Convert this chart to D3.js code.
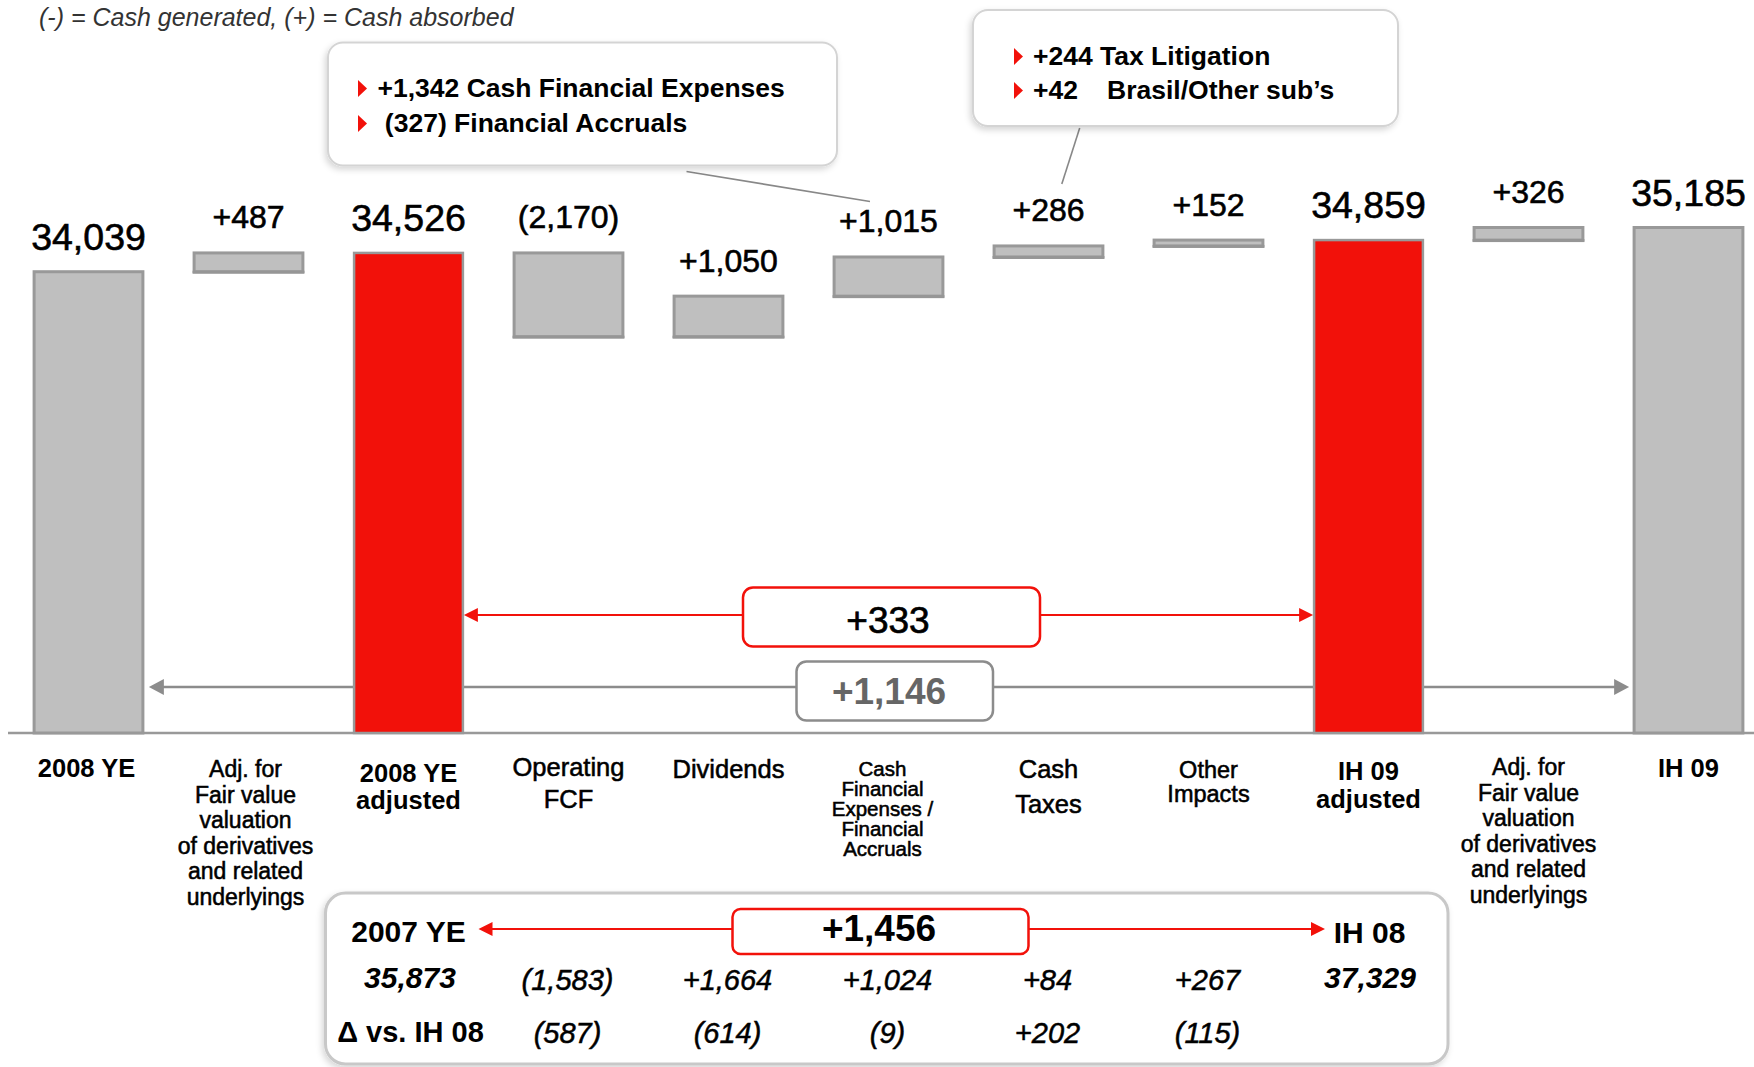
<!DOCTYPE html>
<html><head><meta charset="utf-8">
<script src="https://cdn.jsdelivr.net/npm/d3@7/dist/d3.min.js"></script>
<style>
body{margin:0;background:#fff;}
svg{display:block;font-family:"Liberation Sans",Arial,sans-serif;}
</style>
</head><body>
<svg id="chart" width="1754" height="1067"></svg>
<script>
// ---------------- DATA ----------------
const categories = ["2008 YE","Adj. FV (2008)","2008 YE adjusted","Operating FCF","Dividends","Cash Financial Expenses / Financial Accruals","Cash Taxes","Other Impacts","IH 09 adjusted","Adj. FV (IH 09)","IH 09"];
const barTypes = ["total","delta","total","delta","delta","delta","delta","delta","total","delta","total"];
const barValues = [34039, 487, 34526, -2170, 1050, 1015, 286, 152, 34859, 326, 35185];
const valueLabels = ["34,039","+487","34,526","(2,170)","+1,050","+1,015","+286","+152","34,859","+326","35,185"];
const highlighted = [false,false,true,false,false,false,false,false,true,false,false];
const categoryLines = [
  ["2008 YE"],
  ["Adj. for","Fair value","valuation","of derivatives","and related","underlyings"],
  ["2008 YE","adjusted"],
  ["Operating","FCF"],
  ["Dividends"],
  ["Cash","Financial","Expenses /","Financial","Accruals"],
  ["Cash","Taxes"],
  ["Other","Impacts"],
  ["IH 09","adjusted"],
  ["Adj. for","Fair value","valuation","of derivatives","and related","underlyings"],
  ["IH 09"]
];
const subtitle = "(-) = Cash generated, (+) = Cash absorbed";
const callout1Lines = [["+1,342 Cash Financial Expenses"],[" (327) Financial Accruals"]];
const callout2Lines = [["+244 Tax Litigation"],["+42","Brasil/Other sub\u2019s"]];
const bridgeAdjusted = "+333";
const bridgeReported = "+1,146";
const compHeader = ["2007 YE","+1,456","IH 08"];
const compValues = ["35,873","(1,583)","+1,664","+1,024","+84","+267","37,329"];
const compDeltaTitle = "\u0394 vs. IH 08";
const compDeltas = ["(587)","(614)","(9)","+202","(115)"];

// ---------------- STYLE / LAYOUT ----------------
const W = 1754, H = 1067;
const RED = "#f2110a", GREY_FILL = "#bfbfbf", GREY_STROKE = "#999999";
const svg = d3.select("#chart");
const defs = svg.append("defs");
const f = defs.append("filter").attr("id","shadow").attr("x","-10%").attr("y","-10%").attr("width","120%").attr("height","130%");
f.append("feDropShadow").attr("dx",-2).attr("dy",3).attr("stdDeviation",3).attr("flood-color","#000").attr("flood-opacity",0.16);

const x = d3.scaleBand().domain(categories).range([8.5, 1768.5]).paddingInner(0.32).paddingOuter(0.16);
const y = d3.scaleLinear().domain([22084, 35185]).range([733, 227.5]);
const bw = x.bandwidth();
const cx = c => x(c) + bw / 2;

// compute waterfall
let running = 0;
const bars = categories.map((c, i) => {
  let lo, hi;
  if (barTypes[i] === "total") { running = barValues[i]; lo = y.domain()[0]; hi = running; }
  else { const s = running; running += barValues[i]; lo = Math.min(s, running); hi = Math.max(s, running); }
  return {cat: c, lo, hi, type: barTypes[i], label: valueLabels[i], red: highlighted[i]};
});

// subtitle
svg.append("text").attr("x", 39).attr("y", 26).attr("font-size", 25).attr("font-style","italic")
  .attr("fill","#333").text(subtitle);

// ---- arrows behind bars ----
const arrows = svg.append("g");
function arrowHead(g, tipX, tipY, dir, len, half, color) {
  g.append("path").attr("d", `M${tipX},${tipY} L${tipX - dir*len},${tipY - half} L${tipX - dir*len},${tipY + half} Z`).attr("fill", color);
}
const gY = 687;
const gL = x(categories[0]) + bw + 6, gR = x(categories[10]) - 5;
arrows.append("line").attr("x1", gL + 10).attr("x2", gR - 10).attr("y1", gY).attr("y2", gY).attr("stroke","#8c8c8c").attr("stroke-width",2.5);
arrowHead(arrows, gL, gY, -1, 15, 8, "#8c8c8c");
arrowHead(arrows, gR, gY, 1, 15, 8, "#8c8c8c");
const rY = 615;
const rL = x(categories[2]) + bw + 1, rR = x(categories[8]) - 1;
arrows.append("line").attr("x1", rL + 10).attr("x2", rR - 10).attr("y1", rY).attr("y2", rY).attr("stroke", RED).attr("stroke-width",2);
arrowHead(arrows, rL, rY, -1, 14, 7, RED);
arrowHead(arrows, rR, rY, 1, 14, 7, RED);

// baseline
svg.append("line").attr("x1", 8).attr("x2", W).attr("y1", 733).attr("y2", 733).attr("stroke","#999").attr("stroke-width",2.5);

// ---- bars ----
const bg = svg.append("g");
bars.forEach(b => {
  bg.append("rect").attr("x", x(b.cat)).attr("width", bw)
    .attr("y", y(b.hi)).attr("height", Math.max(1, y(b.lo) - y(b.hi)))
    .attr("fill", b.red ? RED : GREY_FILL).attr("stroke", GREY_STROKE).attr("stroke-width", b.red ? 2.5 : 3);
  if (b.type === "delta") {
    bg.append("rect").attr("x", x(b.cat) - 1.5).attr("width", bw + 3)
      .attr("y", y(b.lo) - 1).attr("height", 3).attr("fill", "#969696");
  }
  bg.append("text").attr("x", cx(b.cat)).attr("y", y(b.hi) - (b.type === "total" ? 22 : 24.5))
    .attr("text-anchor","middle").attr("font-size", b.type === "total" ? 37.5 : 32)
    .attr("fill","#000").attr("stroke","#000").attr("stroke-width",0.6).text(b.label);
});

// ---- category labels ----
const catStyle = [
  {size:25.5, bold:true, lh:27, y0:777},
  {size:23, bold:false, lh:25.5, y0:777},
  {size:25.5, bold:true, lh:27, y0:782},
  {size:25.5, bold:false, lh:32, y0:776},
  {size:25.5, bold:false, lh:27, y0:778},
  {size:20.5, bold:false, lh:20, y0:776},
  {size:25.5, bold:false, lh:35, y0:778},
  {size:23.5, bold:false, lh:23.7, y0:778},
  {size:25.5, bold:true, lh:28, y0:780},
  {size:23, bold:false, lh:25.5, y0:775},
  {size:25.5, bold:true, lh:27, y0:777}
];
const lg = svg.append("g");
categories.forEach((c, i) => {
  const st = catStyle[i];
  const t = lg.append("text").attr("text-anchor","middle").attr("font-size", st.size)
    .attr("font-weight", st.bold ? "bold" : "normal").attr("fill","#000");
  if (!st.bold) t.attr("stroke","#000").attr("stroke-width",0.55);
  const dx = i === 0 ? -2 : (i === 1 ? -3 : (i === 5 ? -6 : 0));
  categoryLines[i].forEach((ln, j) => {
    t.append("tspan").attr("x", cx(c) + dx).attr("y", st.y0 + j * st.lh).text(ln);
  });
});

// ---- bridge boxes ----
const bx = svg.append("g");
bx.append("rect").attr("x", 743).attr("y", 587.5).attr("width", 297).attr("height", 59).attr("rx", 10)
  .attr("fill","#fff").attr("stroke", RED).attr("stroke-width", 2.5);
bx.append("text").attr("x", 888).attr("y", 633).attr("text-anchor","middle").attr("font-size", 37)
  .attr("fill","#000").attr("stroke","#000").attr("stroke-width",0.7).text(bridgeAdjusted);
bx.append("rect").attr("x", 796.5).attr("y", 661.5).attr("width", 196.5).attr("height", 59).attr("rx", 10)
  .attr("fill","#fff").attr("stroke", "#8c8c8c").attr("stroke-width", 2.5);
bx.append("text").attr("x", 889).attr("y", 704).attr("text-anchor","middle").attr("font-size", 37).attr("font-weight","bold").attr("fill","#666").text(bridgeReported);

// ---- callouts ----
const cg = svg.append("g");
cg.append("line").attr("x1", 686.5).attr("y1", 171.5).attr("x2", 870).attr("y2", 201.5).attr("stroke","#888").attr("stroke-width",1.6);
cg.append("line").attr("x1", 1079.7).attr("y1", 128).attr("x2", 1061.8).attr("y2", 184).attr("stroke","#888").attr("stroke-width",1.6);
function bullet(g, bx0, baseY) {
  g.append("path").attr("d", `M${bx0},${baseY-17} L${bx0+9},${baseY-8.5} L${bx0},${baseY} Z`).attr("fill", RED);
}
cg.append("rect").attr("x", 328).attr("y", 42.5).attr("width", 509).attr("height", 123).attr("rx", 15)
  .attr("fill","#fff").attr("stroke","#d4d4d4").attr("stroke-width",2).attr("filter","url(#shadow)");
callout1Lines.forEach((ln, j) => {
  const by = 97 + j * 35;
  bullet(cg, 358, by);
  cg.append("text").attr("x", 377.5).attr("y", by).attr("font-size", 26.5).attr("font-weight","bold").style("white-space","pre").text(ln[0]);
});
cg.append("rect").attr("x", 973).attr("y", 10).attr("width", 425).attr("height", 116).attr("rx", 15)
  .attr("fill","#fff").attr("stroke","#d4d4d4").attr("stroke-width",2).attr("filter","url(#shadow)");
callout2Lines.forEach((ln, j) => {
  const by = 65 + j * 34;
  bullet(cg, 1014, by);
  const t = cg.append("text").attr("y", by).attr("font-size", 26.5).attr("font-weight","bold");
  t.append("tspan").attr("x", 1033).text(ln[0]);
  if (ln[1]) t.append("tspan").attr("x", 1107).text(ln[1]);
});

// ---- comparison table (previous year) ----
const tg = svg.append("g");
tg.append("rect").attr("x", 325.5).attr("y", 893).attr("width", 1122.5).attr("height", 171).attr("rx", 20)
  .attr("fill","#fff").attr("stroke","#c8c8c8").attr("stroke-width",3).attr("filter","url(#shadow)");
const colCats = categories.slice(2, 9);
const c0 = cx(colCats[0]), cLast = cx(colCats[6]);
const aY = 929;
tg.append("line").attr("x1", 492).attr("x2", 1312).attr("y1", aY).attr("y2", aY).attr("stroke", RED).attr("stroke-width", 2);
arrowHead(tg, 478.5, aY, -1, 14, 7, RED);
arrowHead(tg, 1325, aY, 1, 14, 7, RED);
tg.append("rect").attr("x", 732.5).attr("y", 909).attr("width", 296).attr("height", 45).attr("rx", 8)
  .attr("fill","#fff").attr("stroke", RED).attr("stroke-width", 2.5);
tg.append("text").attr("x", c0).attr("y", 942).attr("text-anchor","middle").attr("font-size",30).attr("font-weight","bold").text(compHeader[0]);
tg.append("text").attr("x", 879).attr("y", 941).attr("text-anchor","middle").attr("font-size",37).attr("font-weight","bold").text(compHeader[1]);
tg.append("text").attr("x", cLast + 1).attr("y", 943).attr("text-anchor","middle").attr("font-size",30).attr("font-weight","bold").text(compHeader[2]);
compValues.forEach((v, i) => {
  const edge = (i === 0 || i === compValues.length - 1);
  const t = tg.append("text").attr("x", cx(colCats[i]) + (edge ? 1.5 : -1)).attr("y", edge ? 988 : 990)
    .attr("text-anchor","middle").attr("font-size", edge ? 30 : 29)
    .attr("font-style","italic").attr("font-weight", edge ? "bold" : "normal").text(v);
  if (!edge) t.attr("stroke","#000").attr("stroke-width",0.5);
});
tg.append("text").attr("x", c0 + 2).attr("y", 1042).attr("text-anchor","middle").attr("font-size",29).attr("font-weight","bold").text(compDeltaTitle);
compDeltas.forEach((v, i) => {
  tg.append("text").attr("x", cx(colCats[i + 1]) - 1).attr("y", 1043)
    .attr("text-anchor","middle").attr("font-size", 29).attr("font-style","italic")
    .attr("stroke","#000").attr("stroke-width",0.5).text(v);
});
</script>
</body></html>
